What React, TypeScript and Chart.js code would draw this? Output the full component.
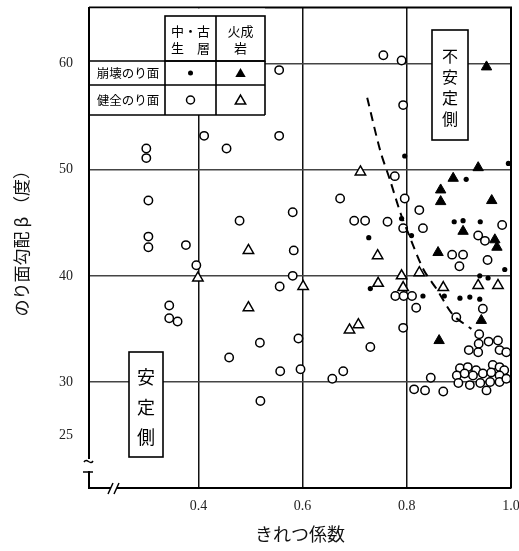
import React, { useEffect, useRef } from 'react';
import { Chart, registerables } from 'chart.js';

Chart.register(...registerables);

// ---- data ----
const xTickValues = [0.4, 0.6, 0.8, 1.0];
const yTickValues = [25, 30, 40, 50, 60];
const xTitle = 'きれつ係数';
const yTitle = '　のり面勾配 β （度）';

// 崩壊のり面・中古生層 (filled dots)
const collapseSedimentary: [number, number][] = [
  [0.796, 51.3], [0.79, 45.4], [0.727, 43.6], [0.809, 43.8], [0.73, 38.8],
  [0.831, 38.1], [0.914, 49.1], [0.891, 45.1], [0.908, 45.2], [0.941, 45.1],
  [0.988, 40.6], [0.94, 40.0], [0.956, 39.8], [0.872, 38.1], [0.902, 37.9],
  [0.921, 38.0], [0.94, 37.8], [0.956, 30.0], [0.995, 50.6],
];
// 崩壊のり面・火成岩 (filled triangles)
const collapseIgneous: [number, number][] = [
  [0.953, 59.7], [0.937, 50.2], [0.889, 49.2], [0.865, 48.1], [0.865, 47.0],
  [0.963, 47.1], [0.908, 44.2], [0.969, 43.4], [0.973, 42.7], [0.86, 42.2],
  [0.943, 35.8], [0.862, 33.9],
];
// 健全のり面・中古生層 (open circles)
const soundSedimentary: [number, number][] = [
  [0.411, 53.2], [0.555, 53.2], [0.454, 52.0], [0.3, 52.0], [0.3, 51.1],
  [0.304, 47.1], [0.581, 46.0], [0.479, 45.2], [0.304, 43.7], [0.304, 42.7],
  [0.376, 42.9], [0.583, 42.4], [0.396, 41.0], [0.581, 40.0], [0.556, 39.0],
  [0.344, 37.2], [0.344, 36.0], [0.36, 35.7], [0.518, 33.7], [0.459, 32.3],
  [0.592, 34.1], [0.557, 31.0], [0.596, 31.2], [0.519, 28.2], [0.555, 59.4],
  [0.755, 60.8], [0.79, 60.3], [0.793, 56.1], [0.777, 49.4], [0.796, 47.3],
  [0.672, 47.3], [0.824, 46.2], [0.699, 45.2], [0.72, 45.2], [0.763, 45.1],
  [0.793, 44.5], [0.831, 44.5], [0.778, 38.1], [0.794, 38.1], [0.81, 38.1],
  [0.818, 37.0], [0.793, 35.1], [0.73, 33.3], [0.657, 30.3], [0.678, 31.0],
  [0.814, 29.3], [0.835, 29.2], [0.846, 30.4], [0.87, 29.1],
  [0.983, 44.8], [0.937, 43.8], [0.95, 43.3], [0.887, 42.0], [0.908, 42.0],
  [0.901, 40.9], [0.955, 41.5], [0.946, 36.9], [0.895, 36.1], [0.939, 34.5],
  [0.938, 33.6], [0.957, 33.8], [0.975, 33.9], [0.978, 33.0], [0.919, 33.0],
  [0.937, 32.8], [0.991, 32.8],
  [0.902, 31.3], [0.917, 31.4], [0.933, 31.1], [0.965, 31.6], [0.978, 31.4],
  [0.987, 31.1], [0.896, 30.6], [0.911, 30.8], [0.927, 30.6], [0.946, 30.8],
  [0.962, 30.9], [0.978, 30.6], [0.899, 29.9], [0.921, 29.7], [0.941, 29.9],
  [0.96, 30.0], [0.978, 30.0], [0.953, 29.2], [0.991, 30.3],
];
// 健全のり面・火成岩 (open triangles)
const soundIgneous: [number, number][] = [
  [0.711, 49.8], [0.496, 42.4], [0.399, 39.8], [0.601, 39.0], [0.496, 37.0],
  [0.744, 41.9], [0.824, 40.3], [0.79, 40.0], [0.745, 39.3], [0.793, 38.9],
  [0.69, 34.9], [0.707, 35.4], [0.87, 38.9], [0.937, 39.1], [0.975, 39.1],
];
// 安定／不安定 boundary (dashed curve)
const boundary: [number, number][] = [
  [0.724, 56.8], [0.749, 51.8], [0.768, 49.0], [0.788, 45.9], [0.803, 44.0],
  [0.832, 40.6], [0.858, 38.7], [0.889, 36.3], [0.924, 35.0],
];

const legendHeader = [['中・古', '生　層'], ['火成', '岩']];
const legendRows = ['崩壊のり面', '健全のり面'];
const stableLabel = '安定側';
const unstableLabel = '不安定側';

const toPts = (arr: [number, number][]) => arr.map(([x, y]) => ({ x, y }));

const CJK = '"Noto Sans CJK JP", sans-serif';
const SERIF = '"Liberation Serif", "DejaVu Serif", serif';

function drawTri(ctx: CanvasRenderingContext2D, cx: number, cy: number, r: number, fill: boolean) {
  const h = r * 1.5;
  const half = (r * Math.sqrt(3)) / 2;
  ctx.beginPath();
  ctx.moveTo(cx, cy - r);
  ctx.lineTo(cx + half, cy - r + h);
  ctx.lineTo(cx - half, cy - r + h);
  ctx.closePath();
  if (fill) { ctx.fillStyle = '#000'; ctx.fill(); }
  else { ctx.fillStyle = '#fff'; ctx.fill(); ctx.stroke(); }
}

function vText(ctx: CanvasRenderingContext2D, s: string, cx: number, y0: number, step: number) {
  Array.from(s).forEach((ch, i) => ctx.fillText(ch, cx, y0 + i * step));
}

const overlay = {
  id: 'overlay',
  afterDatasetsDraw(chart: any) {
    const ctx: CanvasRenderingContext2D = chart.ctx;
    const { left, right, top, bottom } = chart.chartArea;
    ctx.save();
    ctx.strokeStyle = '#000';
    ctx.fillStyle = '#000';

    // frame top/right
    ctx.lineWidth = 2;
    ctx.beginPath();
    ctx.moveTo(left, top);
    ctx.lineTo(right, top);
    ctx.lineTo(right, bottom);
    ctx.stroke();

    // legend table
    const tR = 265, hL = 165, mid = 216, hT = 16, r1 = 61, r2 = 85, r3 = 115;
    ctx.fillStyle = '#fff';
    ctx.fillRect(left + 1, top + 1, tR - left - 1, r3 - top - 1);
    ctx.lineWidth = 1.6;
    ctx.strokeRect(hL, hT, tR - hL, r1 - hT);
    ctx.beginPath();
    ctx.moveTo(left, r1); ctx.lineTo(tR, r1);
    ctx.moveTo(left, r2); ctx.lineTo(tR, r2);
    ctx.moveTo(left, r3); ctx.lineTo(tR, r3);
    ctx.moveTo(mid, hT); ctx.lineTo(mid, r3);
    ctx.moveTo(hL, r1); ctx.lineTo(hL, r3);
    ctx.moveTo(tR, r1); ctx.lineTo(tR, r3);
    ctx.stroke();
    ctx.fillStyle = '#000';
    ctx.textAlign = 'center';
    ctx.textBaseline = 'middle';
    ctx.font = `13px ${CJK}`;
    ctx.fillText(legendHeader[0][0], (hL + mid) / 2, 31);
    ctx.fillText(legendHeader[0][1], (hL + mid) / 2, 48);
    ctx.fillText(legendHeader[1][0], (mid + tR) / 2, 31);
    ctx.fillText(legendHeader[1][1], (mid + tR) / 2, 48);
    ctx.font = `12.5px ${CJK}`;
    ctx.fillText(legendRows[0], (left + hL) / 2 + 1, (r1 + r2) / 2);
    ctx.fillText(legendRows[1], (left + hL) / 2 + 1, (r2 + r3) / 2);
    // symbols
    const c1 = (hL + mid) / 2, c2 = (mid + tR) / 2;
    ctx.beginPath(); ctx.arc(c1, (r1 + r2) / 2, 2.5, 0, Math.PI * 2); ctx.fill();
    drawTri(ctx, c2, (r1 + r2) / 2 + 1, 6, true);
    ctx.lineWidth = 1.5;
    ctx.beginPath(); ctx.arc(c1, (r2 + r3) / 2, 4, 0, Math.PI * 2); ctx.stroke();
    drawTri(ctx, c2, (r2 + r3) / 2 + 1, 6, false);

    // stable box
    ctx.lineWidth = 1.6;
    ctx.fillStyle = '#fff';
    ctx.fillRect(129, 352, 34, 105);
    ctx.strokeRect(129, 352, 34, 105);
    ctx.fillStyle = '#000';
    ctx.font = `18px ${CJK}`;
    vText(ctx, stableLabel, 146, 377, 30);

    // unstable box
    ctx.fillStyle = '#fff';
    ctx.fillRect(432, 30, 36, 110);
    ctx.strokeRect(432, 30, 36, 110);
    ctx.fillStyle = '#000';
    ctx.font = `16px ${CJK}`;
    vText(ctx, unstableLabel, 450, 56, 21);

    // axis breaks
    ctx.fillStyle = '#fff';
    ctx.fillRect(left - 3, 459, 6, 12);
    ctx.lineWidth = 1.5;
    ctx.beginPath();
    ctx.moveTo(left - 5, 462);
    ctx.bezierCurveTo(left - 2, 457, left + 1, 466, left + 4, 461);
    ctx.stroke();
    ctx.beginPath();
    ctx.moveTo(left - 6, 472); ctx.lineTo(left + 4, 472);
    ctx.moveTo(left, 472); ctx.lineTo(left, bottom);
    ctx.stroke();
    ctx.fillStyle = '#fff';
    ctx.fillRect(111, bottom - 3, 6, 6);
    ctx.beginPath();
    ctx.moveTo(108, bottom + 6); ctx.lineTo(113, bottom - 5);
    ctx.moveTo(114, bottom + 6); ctx.lineTo(119, bottom - 5);
    ctx.stroke();
    ctx.restore();
  },
};

export default function App() {
  const ref = useRef<HTMLCanvasElement | null>(null);
  useEffect(() => {
    if (!ref.current) return;
    const chart = new Chart(ref.current, {
      type: 'scatter',
      data: {
        datasets: [
          {
            label: 'boundary',
            data: toPts(boundary),
            showLine: true,
            borderColor: '#000',
            borderWidth: 2,
            borderDash: [9, 6],
            pointRadius: 0,
            tension: 0.3,
          },
          {
            label: '健全のり面・中古生層',
            data: toPts(soundSedimentary),
            pointStyle: 'circle',
            pointRadius: 4.2,
            backgroundColor: '#fff',
            borderColor: '#000',
            borderWidth: 1.5,
          },
          {
            label: '健全のり面・火成岩',
            data: toPts(soundIgneous),
            pointStyle: 'triangle',
            pointRadius: 6,
            backgroundColor: '#fff',
            borderColor: '#000',
            borderWidth: 1.5,
          },
          {
            label: '崩壊のり面・中古生層',
            data: toPts(collapseSedimentary),
            pointStyle: 'circle',
            pointRadius: 2.6,
            backgroundColor: '#000',
            borderColor: '#000',
            borderWidth: 0,
          },
          {
            label: '崩壊のり面・火成岩',
            data: toPts(collapseIgneous),
            pointStyle: 'triangle',
            pointRadius: 6,
            backgroundColor: '#000',
            borderColor: '#000',
            borderWidth: 1,
          },
        ],
      },
      options: {
        animation: false,
        responsive: false,
        maintainAspectRatio: false,
        layout: { padding: { top: 5, left: 0, right: 8, bottom: 0 } },
        plugins: { legend: { display: false }, tooltip: { enabled: false } },
        scales: {
          x: {
            type: 'linear',
            min: 0.19,
            max: 1.0,
            afterBuildTicks: (s: any) => { s.ticks = xTickValues.map((v) => ({ value: v })); },
            afterFit: (s: any) => { s.height = 63; s.paddingLeft = 0; s.paddingRight = 0; },
            grid: { color: '#111', lineWidth: 1.5, drawTicks: false },
            border: { display: true, color: '#000', width: 2 },
            ticks: {
              padding: 10,
              color: '#222',
              font: { family: SERIF, size: 14 },
              callback: (v: any) => Number(v).toFixed(1),
            },
            title: {
              display: true,
              text: xTitle,
              color: '#111',
              font: { family: CJK, size: 18 },
              padding: { top: 0, bottom: 6 },
            },
          },
          y: {
            type: 'linear',
            min: 20,
            max: 65.3,
            afterBuildTicks: (s: any) => { s.ticks = yTickValues.map((v) => ({ value: v })); },
            afterFit: (s: any) => { s.width = 89; s.paddingTop = 0; s.paddingBottom = 0; },
            grid: {
              color: (c: any) => (c.tick && c.tick.value === 25 ? 'rgba(0,0,0,0)' : '#444'),
              lineWidth: 1.5,
              drawTicks: false,
            },
            border: { display: true, color: '#000', width: 2 },
            ticks: {
              padding: 16,
              color: '#222',
              font: { family: SERIF, size: 14 },
              callback: (v: any) => String(v),
            },
            title: {
              display: true,
              text: yTitle,
              color: '#111',
              font: { family: CJK, size: 17 },
              padding: { top: 11, bottom: 0 },
            },
          },
        },
      },
      plugins: [overlay],
    });
    return () => chart.destroy();
  }, []);
  return (
    <div style={{ position: 'fixed', left: 0, top: 0, width: 519, height: 551, background: '#fff' }}>
      <canvas ref={ref} width={519} height={551} style={{ width: 519, height: 551, display: 'block' }} />
    </div>
  );
}
